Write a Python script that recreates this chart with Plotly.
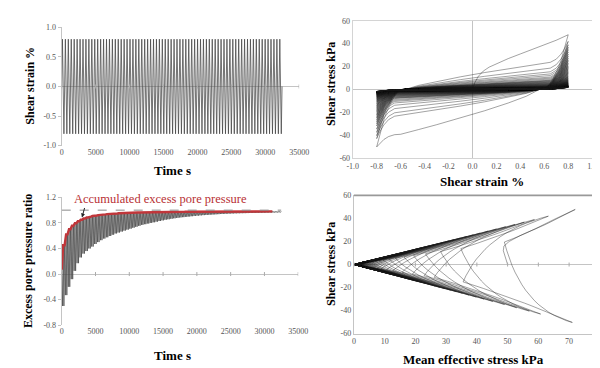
import plotly.graph_objects as go

# ---------------- data ----------------
CYCLE_PERIOD_S = 433          # s per strain cycle
STRAIN_AMP = 0.8              # shear strain amplitude (%)
RU_FULL = 1.0                 # reference line (full liquefaction)
RU_RED_START = 0.07
RED_LAST_CYCLE = 72           # accumulated curve drawn up to this cycle
FAIL_SLOPE_POS = 0.664        # tau / p' at positive peaks
FAIL_SLOPE_NEG = 0.708        # |tau| / p' at negative peaks
HOOK_TAU_FRAC = 0.6           # hook tau as a fraction of the failure line at the hook

# peak shear stress (kPa) at +0.8 % and -0.8 % for each cycle
tau_pos = [47.8, 42.0, 39.0, 36.8, 34.8, 32.8, 30.8, 29.0, 27.3, 25.8, 24.4, 23.0, 21.7, 20.5, 19.4,
           18.3, 17.3, 16.3, 15.4, 14.6, 13.8, 13.0, 12.3, 11.6, 11.0, 10.4, 9.8, 9.3, 8.8, 8.3,
           7.9, 7.5, 7.1, 6.7, 6.4, 6.1, 5.8, 5.5, 5.2, 5.0, 4.8, 4.6, 4.4, 4.2, 4.0,
           3.85, 3.7, 3.55, 3.4, 3.3, 3.2, 3.1, 3.0, 2.9, 2.8, 2.7, 2.6, 2.55, 2.5, 2.45,
           2.4, 2.35, 2.3, 2.25, 2.2, 2.15, 2.1, 2.05, 2.0, 1.95, 1.9, 1.9, 1.85, 1.8, 1.8]
tau_neg = [50.3, 43.0, 40.4, 37.5, 34.7, 32.0, 30.0, 28.2, 26.5, 25.0, 23.6, 22.3, 21.0, 19.8, 18.7,
           17.6, 16.6, 15.7, 14.8, 14.0, 13.2, 12.5, 11.8, 11.1, 10.5, 9.9, 9.4, 8.9, 8.4, 7.9,
           7.5, 7.1, 6.7, 6.4, 6.1, 5.8, 5.5, 5.2, 5.0, 4.8, 4.6, 4.4, 4.2, 4.0, 3.85,
           3.7, 3.55, 3.4, 3.3, 3.2, 3.1, 3.0, 2.9, 2.8, 2.7, 2.6, 2.55, 2.5, 2.45, 2.4,
           2.35, 2.3, 2.25, 2.2, 2.15, 2.1, 2.05, 2.0, 1.95, 1.9, 1.9, 1.85, 1.8, 1.8, 1.75]

# excess pore pressure ratio: upper values (accumulated) and lower dips per cycle
ru_top = [0.45, 0.62, 0.70, 0.755, 0.795, 0.825, 0.85, 0.87, 0.885, 0.898, 0.908, 0.916, 0.923, 0.929, 0.934,
          0.938, 0.942, 0.945, 0.948, 0.951, 0.953, 0.955, 0.957, 0.959, 0.961, 0.962, 0.963, 0.964, 0.965, 0.966,
          0.967, 0.968, 0.969, 0.970, 0.971, 0.971, 0.972, 0.972, 0.973, 0.973, 0.974, 0.974, 0.975, 0.975, 0.975,
          0.976, 0.976, 0.977, 0.977, 0.977, 0.977, 0.978, 0.978, 0.978, 0.978, 0.978, 0.979, 0.979, 0.979, 0.979,
          0.979, 0.98, 0.98, 0.98, 0.98, 0.98, 0.98, 0.98, 0.98, 0.98, 0.98, 0.98, 0.98, 0.98, 0.98]
ru_dip = [-0.50, -0.33, -0.20, -0.08, 0.05, 0.17, 0.26, 0.32, 0.36, 0.40, 0.43, 0.47, 0.50, 0.53, 0.555,
          0.575, 0.595, 0.615, 0.635, 0.65, 0.665, 0.68, 0.695, 0.71, 0.725, 0.74, 0.755, 0.77, 0.78, 0.79,
          0.80, 0.81, 0.82, 0.83, 0.84, 0.85, 0.857, 0.865, 0.872, 0.879, 0.885, 0.89, 0.895, 0.90, 0.905,
          0.91, 0.914, 0.918, 0.922, 0.925, 0.928, 0.931, 0.934, 0.937, 0.94, 0.942, 0.944, 0.946, 0.948, 0.95,
          0.951, 0.952, 0.953, 0.954, 0.955, 0.956, 0.957, 0.958, 0.959, 0.96, 0.961, 0.962, 0.963, 0.964, 0.965]

# stress-path hooks (p' at hook / p' at preceding peak)
hook_ratio_upper = [0.68, 0.55, 0.48, 0.42, 0.37, 0.33, 0.29, 0.26, 0.23, 0.21, 0.19, 0.17, 0.16, 0.15, 0.14,
                    0.13, 0.12, 0.11, 0.10, 0.095, 0.09, 0.085, 0.08, 0.075] + [0.07] * 51
hook_ratio_lower = [0.50, 0.43, 0.40, 0.36, 0.32, 0.28, 0.25, 0.22, 0.20, 0.18, 0.17, 0.16, 0.15, 0.14, 0.13,
                    0.12, 0.11, 0.10, 0.095, 0.09, 0.085, 0.08, 0.075, 0.07] + [0.07] * 51

# stress level of the flat part of each branch (fraction of the branch's end peak)
flat_ratio_unload = [0.78, 0.53, 0.49, 0.43, 0.38, 0.35, 0.33, 0.32, 0.31] + [0.30] * 66
flat_ratio_load = [0.55, 0.46, 0.40, 0.37, 0.35, 0.33, 0.32, 0.31] + [0.30] * 67

# initial monotonic loading (before the first peak)
init_strain = [0.0, 0.02, 0.05, 0.09, 0.14, 0.2, 0.3, 0.4, 0.5, 0.6, 0.7]
init_stress = [0.0, 6.0, 11.5, 16.0, 19.5, 22.5, 27.0, 31.0, 35.0, 39.0, 43.0]
init_p = [50.0, 49.6, 49.0, 48.6, 48.8, 50.5, 54.0, 59.0, 65.0]
init_q = [0.0, 4.0, 8.0, 12.0, 16.0, 20.0, 25.0, 31.0, 39.0]

# hysteresis branch shape (fractions of the strain amplitude / of the stress rise)
ELASTIC_S = [1.0, 0.975, 0.95, 0.925, 0.9, 0.875, 0.8375, 0.8, 0.7625, 0.725, 0.7]
ELASTIC_F = [1.0, 0.826, 0.670, 0.531, 0.410, 0.305, 0.180, 0.089, 0.032, 0.004, 0.0]
FLAT_S = [0.5625, 0.375, 0.125, -0.125, -0.375, -0.5625, -0.75]
FLAT_G = [0.152, 0.302, 0.477, 0.637, 0.787, 0.895, 1.0]
HARD_S = [-0.8125, -0.875, -0.925, -0.9625, -0.9875, -1.0]
HARD_H = [0.031, 0.177, 0.41, 0.666, 0.88, 1.0]

time_ticks = [0, 5000, 10000, 15000, 20000, 25000, 30000, 35000]
strain_ticks1 = [-1.0, -0.5, 0.0, 0.5, 1.0]
strain_ticks2 = [-1.0, -0.8, -0.6, -0.4, -0.2, 0.0, 0.2, 0.4, 0.6, 0.8, 1.0]
ru_ticks = [-0.8, -0.4, 0.0, 0.4, 0.8, 1.2]
stress_ticks = [-60, -40, -20, 0, 20, 40, 60]
p_ticks = [0, 10, 20, 30, 40, 50, 60, 70, 80]

N = len(tau_pos)
T = CYCLE_PERIOD_S
EPS = 1e-4

SERIF = "Liberation Serif, Times New Roman, serif"
LOOP_COLOR = "rgba(25,25,25,0.5)"


def f1(v):
    return f"{v:.1f}"


def f0(v):
    return f"{v:.0f}"


fig = go.Figure()

# ---------------- panel 1: strain vs time ----------------
t_s, s_s = [0.0], [0.0]
for j in range(2 * N):
    t_s.append(T * (0.25 + 0.5 * j))
    s_s.append(STRAIN_AMP if j % 2 == 0 else -STRAIN_AMP)
t_s.append(T * N)
s_s.append(0.0)
fig.add_trace(go.Scatter(x=t_s, y=s_s, mode="lines", xaxis="x", yaxis="y",
                         line=dict(color="#454545", width=0.75)))

# ---------------- panel 2: stress-strain loops ----------------
def unload_branch(A, B, F):
    xs = [STRAIN_AMP * f for f in ELASTIC_S] + [STRAIN_AMP * f for f in FLAT_S] + [STRAIN_AMP * f for f in HARD_S]
    ys = [A * e for e in ELASTIC_F] + [-F * g for g in FLAT_G] + [-(F + (B - F) * h) for h in HARD_H]
    return xs, ys


def load_branch(B, A, F):
    xs = [-STRAIN_AMP * f for f in ELASTIC_S] + [-STRAIN_AMP * f for f in FLAT_S] + [-STRAIN_AMP * f for f in HARD_S]
    ys = [-B * e for e in ELASTIC_F] + [F * g for g in FLAT_G] + [F + (A - F) * h for h in HARD_H]
    return xs, ys


branches = [(init_strain + [STRAIN_AMP], init_stress + [tau_pos[0]])]
for k in range(N):
    branches.append(unload_branch(tau_pos[k], tau_neg[k], flat_ratio_unload[k] * tau_neg[k]))
    if k < N - 1:
        branches.append(load_branch(tau_neg[k], tau_pos[k + 1], flat_ratio_load[k] * tau_pos[k + 1]))
for xs, ys in branches:
    fig.add_trace(go.Scatter(x=xs, y=ys, mode="lines", xaxis="x2", yaxis="y2",
                             line=dict(color=LOOP_COLOR, width=0.8)))

# ---------------- panel 3: pore pressure ratio ----------------
t_r, r_r = [0.0], [0.0]
t_top, r_topv = [], []
for j in range(2 * N):
    k = j // 2
    t_r.append(T * (0.25 + 0.5 * j))
    r_r.append(ru_dip[k])
    t_r.append(T * (0.5 + 0.5 * j))
    r_r.append(ru_top[k])
    t_top.append(T * (0.5 + 0.5 * j))
    r_topv.append(ru_top[k])
fig.add_trace(go.Scatter(x=t_r, y=r_r, mode="lines", xaxis="x3", yaxis="y3",
                         line=dict(color="#4a4a4a", width=0.75)))
nred = 2 * RED_LAST_CYCLE
fig.add_trace(go.Scatter(x=[0.0] + t_top[:nred], y=[RU_RED_START] + r_topv[:nred], mode="lines",
                         xaxis="x3", yaxis="y3", line=dict(color="#c0363a", width=2.4)))

# ---------------- panel 4: stress path ----------------
def bez(P0, C, P1, n=16):
    pts = []
    for i in range(n + 1):
        t = i / n
        a, b, c = (1 - t) ** 2, 2 * t * (1 - t), t ** 2
        pts.append((a * P0[0] + b * C[0] + c * P1[0], a * P0[1] + b * C[1] + c * P1[1]))
    return pts


peaks = []
for k in range(N):
    peaks.append(("up", k, (tau_pos[k] / FAIL_SLOPE_POS, tau_pos[k])))
    peaks.append(("dn", k, (tau_neg[k] / FAIL_SLOPE_NEG, -tau_neg[k])))

paths = [(init_p + [peaks[0][2][0]], init_q + [peaks[0][2][1]])]
for j in range(len(peaks) - 1):
    kind, k, A = peaks[j]
    B = peaks[j + 1][2]
    if kind == "up":
        hp = hook_ratio_upper[k] * A[0]
        H = (hp, HOOK_TAU_FRAC * FAIL_SLOPE_POS * hp)
    else:
        hp = hook_ratio_lower[k] * A[0]
        H = (hp, -HOOK_TAU_FRAC * FAIL_SLOPE_NEG * hp)
    C1 = (H[0] + 0.5 * (A[0] - H[0]), H[1] + 0.42 * (A[1] - H[1]))
    cp = H[0] + 0.25 * (B[0] - H[0])
    C2 = (cp, cp * B[1] / B[0])
    pts = bez(A, C1, H) + bez(H, C2, B)[1:]
    paths.append(([p[0] for p in pts], [p[1] for p in pts]))
for xs, ys in paths:
    fig.add_trace(go.Scatter(x=xs, y=ys, mode="lines", xaxis="x4", yaxis="y4",
                             line=dict(color=LOOP_COLOR, width=0.8)))

# ---------------- axes ----------------
TICKFONT = dict(family=SERIF, size=8, color="#555555")
LINEC = "#c4c4c4"


def ax(**kw):
    base = dict(showgrid=False, tickfont=TICKFONT, linecolor=LINEC, tickcolor=LINEC,
                zerolinecolor=LINEC, zerolinewidth=1, fixedrange=True)
    base.update(kw)
    return base


fig.update_layout(
    width=600, height=368, margin=dict(l=0, r=0, t=0, b=0),
    paper_bgcolor="white", plot_bgcolor="white", showlegend=False,
    xaxis=ax(domain=[0.0817, 0.4883], range=[0, 35000 + 1], anchor="y",
             tickvals=time_ticks, ticktext=[f0(v) for v in time_ticks],
             showline=False, ticks="", zeroline=False),
    yaxis=ax(domain=[0.6277, 0.9573], range=[-1 - EPS, 1 + EPS], anchor="x",
             tickvals=strain_ticks1, ticktext=[f1(v) for v in strain_ticks1],
             showline=True, ticks="outside", ticklen=3, zeroline=True),
    xaxis2=ax(domain=[0.58, 0.99], range=[-1 - EPS, 1 + EPS], anchor="y2",
              tickvals=strain_ticks2, ticktext=[f1(v) for v in strain_ticks2],
              showline=True, mirror=True, ticks="", zeroline=True, linecolor="#d4d4d4"),
    yaxis2=ax(domain=[0.5932, 0.9755], range=[-60 - EPS, 60 + EPS], anchor="x2",
              tickvals=stress_ticks, ticktext=[f0(v) for v in stress_ticks],
              showline=True, mirror=True, ticks="", zeroline=True, linecolor="#d4d4d4"),
    xaxis3=ax(domain=[0.0817, 0.4867], range=[0, 35000 + 1], anchor="y3",
              tickvals=time_ticks, ticktext=[f0(v) for v in time_ticks],
              showline=False, ticks="", zeroline=False),
    yaxis3=ax(domain=[0.1277, 0.4837], range=[-0.8 - EPS, 1.2 + EPS], anchor="x3",
              tickvals=ru_ticks, ticktext=[f1(v) for v in ru_ticks],
              showline=True, ticks="outside", ticklen=3, zeroline=True),
    xaxis4=ax(domain=[0.582, 1.0], range=[0, 79.4], anchor="y4",
              tickvals=p_ticks, ticktext=[f0(v) for v in p_ticks],
              showline=True, ticks="", zeroline=False),
    yaxis4=ax(domain=[0.1041, 0.4891], range=[-60 - EPS, 60 + EPS], anchor="x4",
              tickvals=stress_ticks, ticktext=[f0(v) for v in stress_ticks],
              showline=True, ticks="", zeroline=True),
)

# ---------------- shapes ----------------
shapes = []
for xr, yr, vals in (("x", "y", time_ticks), ("x3", "y3", time_ticks), ("x4", "y4", p_ticks[:-1])):
    for v in vals:
        shapes.append(dict(type="line", xref=xr, yref=yr, x0=v, x1=v, ysizemode="pixel",
                           yanchor=0, y0=-2, y1=2, line=dict(color="#aaaaaa", width=1)))
shapes.append(dict(type="line", xref="x3", yref="y3", x0=0, x1=T * N, y0=RU_FULL, y1=RU_FULL,
                   line=dict(color="#8a8a8a", width=1, dash="dash")))
shapes.append(dict(type="line", xref="x4 domain", yref="y4 domain", x0=0, x1=1, y0=1, y1=1,
                   line=dict(color="#999999", width=1.6)))
fig.update_layout(shapes=shapes)

# ---------------- text ----------------
TF = dict(family=SERIF, size=13, color="black")
TFY = dict(family=SERIF, size=12, color="black")


def title(text, x, y, angle=0, font=TF):
    return dict(text="<b>" + text + "</b>", xref="paper", yref="paper", x=x, y=y,
                xanchor="center", yanchor="middle", showarrow=False, textangle=angle, font=font)


annots = [
    title("Shear strain %", 0.0283, 0.7935, -90, TFY),
    title("Time s", 0.2717, 0.5598),
    title("Shear stress kPa", 0.5417, 0.8007, -90, TFY),
    title("Shear strain %", 0.8008, 0.529),
    title("Excess pore pressure ratio", 0.025, 0.3052, -90, TFY),
    title("Time s", 0.2708, 0.0426),
    title("Shear stress kPa", 0.5417, 0.2989, -90, TFY),
    title("Mean effective stress kPa", 0.787, 0.0307),
    dict(text="Accumulated excess pore pressure", xref="paper", yref="paper", x=0.1, y=0.4783,
         xanchor="left", yanchor="middle", showarrow=False,
         font=dict(family=SERIF, size=12.5, color="#b83034")),
    dict(text="", xref="x3", yref="y3", x=3000, y=0.885, ax=3, ay=-11, showarrow=True,
         arrowhead=2, arrowsize=0.8, arrowwidth=1, arrowcolor="#222222"),
]
fig.update_layout(annotations=annots)

fig.write_html("out.html")
